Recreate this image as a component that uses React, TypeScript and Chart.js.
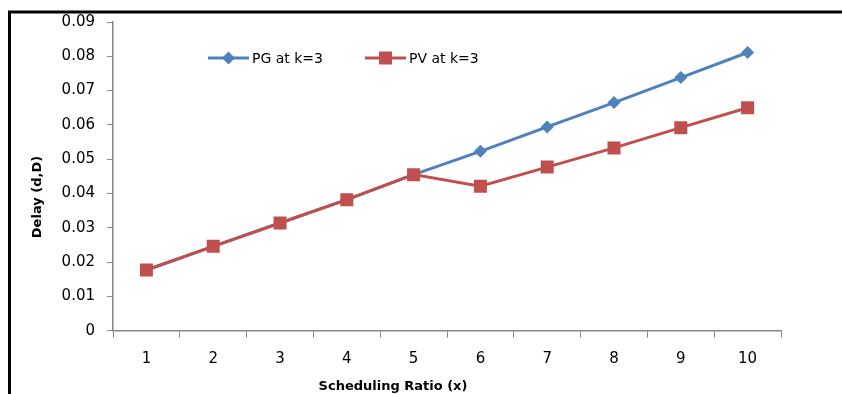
import React, { useEffect, useRef } from 'react';
import { Chart, registerables } from 'chart.js';

Chart.register(...registerables);

// Scheduling ratio categories and measured delays
const categories = ['1', '2', '3', '4', '5', '6', '7', '8', '9', '10'];
const pgDelay = [0.0177, 0.0246, 0.0314, 0.0382, 0.0455, 0.0523, 0.0594, 0.0665, 0.0738, 0.0811];
const pvDelay = [0.0177, 0.0246, 0.0314, 0.0382, 0.0455, 0.0421, 0.0477, 0.0533, 0.0592, 0.065];
const yTickValues = [0, 0.01, 0.02, 0.03, 0.04, 0.05, 0.06, 0.07, 0.08, 0.09];
const seriesNames = ['PG at k=3', 'PV at k=3'];
const xTitle = 'Scheduling Ratio (x)';
const yTitle = 'Delay (d,D)';

const BLUE = '#4F81BD';
const RED = '#C0504D';
const AXIS = '#868686';
const FONT = "'DejaVu Sans', Verdana, sans-serif";

// Frame, axis titles and an in-plot legend
const decorations = {
  id: 'decorations',
  afterDraw(chart: any) {
    const ctx = chart.ctx as CanvasRenderingContext2D;
    const area = chart.chartArea;
    ctx.save();

    // outer frame (top and left edges)
    ctx.strokeStyle = '#000';
    ctx.lineWidth = 3;
    ctx.beginPath();
    ctx.moveTo(9.5, chart.height);
    ctx.lineTo(9.5, 12);
    ctx.lineTo(chart.width, 12);
    ctx.stroke();

    // axis titles
    ctx.fillStyle = '#000';
    ctx.font = `bold 13px ${FONT}`;
    ctx.textAlign = 'center';
    ctx.textBaseline = 'middle';
    ctx.fillText(xTitle, 393, 387);
    ctx.save();
    ctx.translate(38, 197);
    ctx.rotate(-Math.PI / 2);
    ctx.fillText(yTitle, 0, 0);
    ctx.restore();

    // legend
    const ly = area.top + 36;
    const entries = [
      { x: area.left + 95, color: BLUE, style: 'diamond', label: seriesNames[0] },
      { x: area.left + 252, color: RED, style: 'square', label: seriesNames[1] },
    ];
    ctx.font = `14px ${FONT}`;
    ctx.textAlign = 'left';
    for (const e of entries) {
      ctx.strokeStyle = e.color;
      ctx.fillStyle = e.color;
      ctx.lineWidth = 3;
      ctx.beginPath();
      ctx.moveTo(e.x, ly);
      ctx.lineTo(e.x + 41, ly);
      ctx.stroke();
      const cx = e.x + 20.5;
      ctx.beginPath();
      if (e.style === 'diamond') {
        const r = 6.5;
        ctx.moveTo(cx, ly - r);
        ctx.lineTo(cx + r, ly);
        ctx.lineTo(cx, ly + r);
        ctx.lineTo(cx - r, ly);
        ctx.closePath();
      } else {
        const h = 6.5;
        ctx.rect(cx - h, ly - h, 2 * h, 2 * h);
      }
      ctx.fill();
      ctx.fillStyle = '#000';
      ctx.fillText(e.label, e.x + 44, ly + 1);
    }
    ctx.restore();
  },
};

export default function App() {
  const canvasRef = useRef<HTMLCanvasElement | null>(null);

  useEffect(() => {
    const canvas = canvasRef.current;
    if (!canvas) return;
    const chart = new Chart(canvas, {
      type: 'line',
      data: {
        labels: categories,
        datasets: [
          {
            label: seriesNames[0],
            data: pgDelay,
            borderColor: BLUE,
            backgroundColor: BLUE,
            borderWidth: 3,
            pointStyle: 'rectRot',
            pointRadius: 6.5,
            pointBorderWidth: 0,
            tension: 0,
            order: 1,
          },
          {
            label: seriesNames[1],
            data: pvDelay,
            borderColor: RED,
            backgroundColor: RED,
            borderWidth: 3,
            pointStyle: 'rect',
            pointRadius: 9.2,
            pointBorderWidth: 0,
            tension: 0,
            order: 0,
          },
        ],
      },
      options: {
        responsive: false,
        animation: false,
        events: [],
        layout: { padding: { top: 22, left: 0, right: 61, bottom: 0 } },
        plugins: {
          legend: { display: false },
          tooltip: { enabled: false },
        },
        scales: {
          x: {
            type: 'category',
            offset: true,
            grid: {
              offset: true,
              drawOnChartArea: false,
              drawTicks: true,
              tickLength: 7,
              color: AXIS,
            },
            border: { color: AXIS, width: 1.5 },
            ticks: {
              color: '#000',
              padding: 12,
              maxRotation: 0,
              font: { family: FONT, size: 15 },
            },
            afterFit(scale: any) {
              scale.height = 63.3;
            },
          },
          y: {
            min: 0,
            max: 0.09,
            grid: {
              drawOnChartArea: false,
              drawTicks: true,
              tickLength: 6,
              color: AXIS,
            },
            border: { color: AXIS, width: 1.5 },
            ticks: {
              color: '#000',
              padding: 12,
              font: { family: FONT, size: 15 },
              callback: (v: any) => (Number(v) === 0 ? '0' : Number(v).toFixed(2)),
            },
            afterBuildTicks(scale: any) {
              scale.ticks = yTickValues.map((value) => ({ value }));
            },
            afterFit(scale: any) {
              scale.width = 113;
            },
          },
        },
      },
      plugins: [decorations],
    });
    return () => chart.destroy();
  }, []);

  return (
    <div style={{ position: 'fixed', left: 0, top: 0, width: 842, height: 394, background: '#fff' }}>
      <canvas ref={canvasRef} width={842} height={394} style={{ display: 'block' }} />
    </div>
  );
}
